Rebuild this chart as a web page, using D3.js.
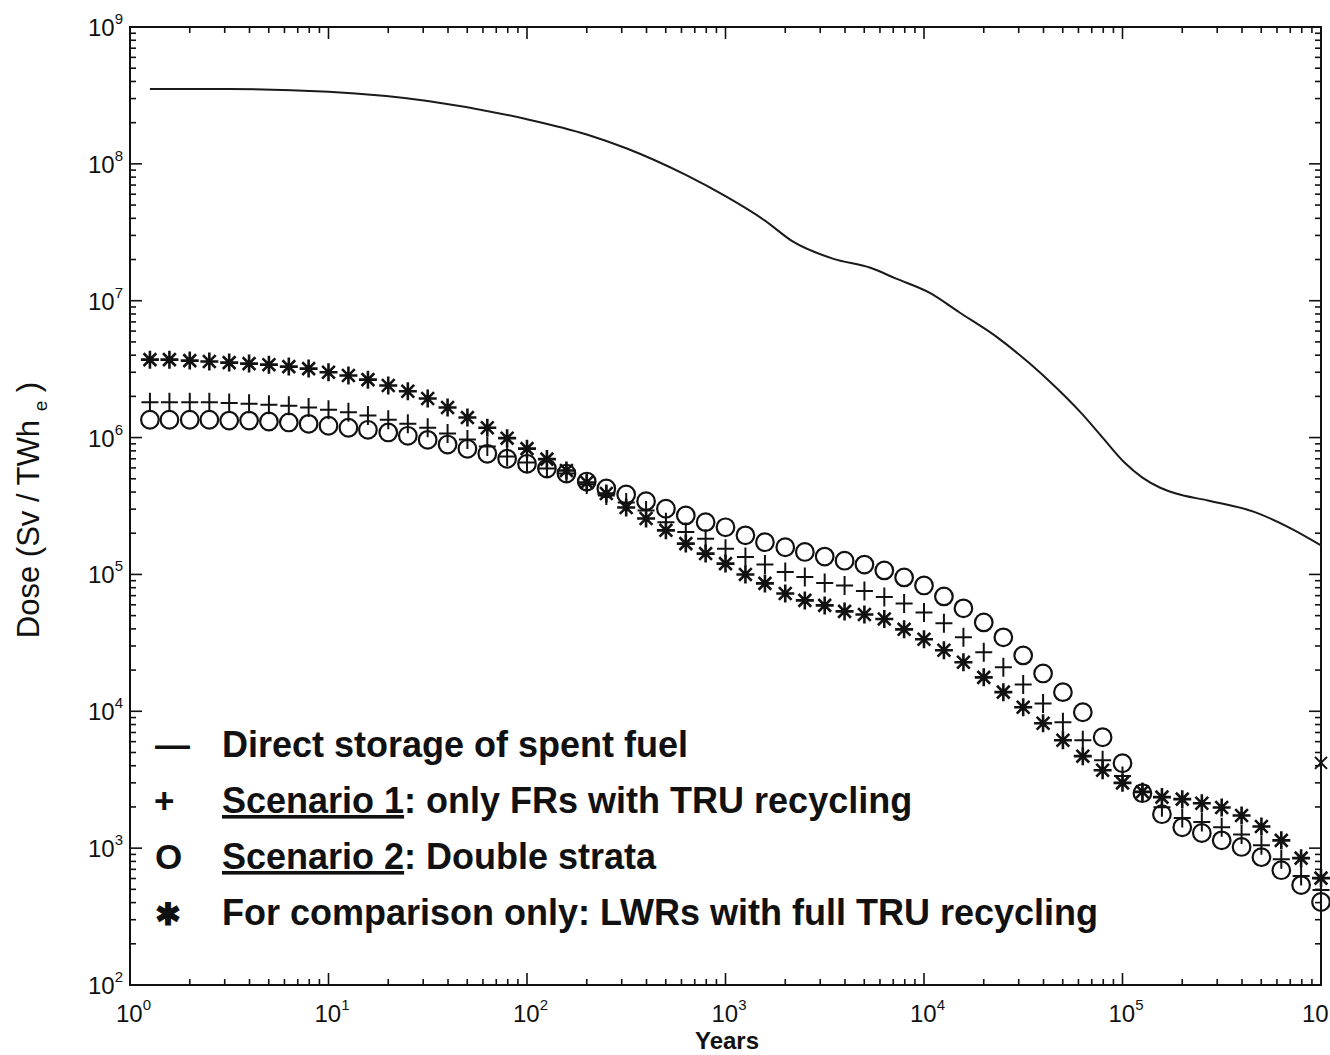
<!DOCTYPE html>
<html>
<head>
<meta charset="utf-8">
<script src="https://cdn.jsdelivr.net/npm/d3@7"></script>
<style>
  html, body { margin: 0; padding: 0; background: #fff; }
  svg { display: block; }
  text { font-family: "Liberation Sans", Arial, Helvetica, sans-serif; fill: #111; }
</style>
</head>
<body>
<svg id="chart" width="1330" height="1055"></svg>
<script>
// Radiotoxic dose of the waste per TWh(e) versus time after discharge

// Direct storage of spent fuel (continuous curve)
const lineYears = [1.26, 3.16, 10, 31.6, 100, 200, 316, 631, 1000, 1580, 2190, 3470, 5370, 7240,
  10700, 15100, 23400, 33900, 45700, 61700, 79400, 102000, 126000, 155000, 186000, 269000, 468000, 692000, 1000000];
const lineDose = [3.52e8, 3.52e8, 3.36e8, 2.88e8, 2.12e8, 1.64e8, 1.3e8, 8.3e7, 5.8e7, 3.85e7, 2.7e7, 2.03e7, 1.74e7, 1.45e7,
  1.14e7, 8.2e6, 5.4e6, 3.5e6, 2.36e6, 1.52e6, 1.0e6, 6.6e5, 5.1e5, 4.3e5, 3.9e5, 3.47e5, 2.84e5, 2.2e5, 1.63e5];

// Sampling times shared by the three marker series
const years = [
  1.26, 1.58, 2.0, 2.51, 3.16, 3.98, 5.01, 6.31, 7.94, 10,
  12.6, 15.8, 20.0, 25.1, 31.6, 39.8, 50.1, 63.1, 79.4, 100,
  126, 158, 200, 251, 316, 398, 501, 631, 794, 1000,
  1260, 1580, 2000, 2510, 3160, 3980, 5010, 6310, 7940, 10000,
  12600, 15800, 20000, 25100, 31600, 39800, 50100, 63100, 79400, 100000,
  126000, 158000, 200000, 251000, 316000, 398000, 501000, 631000, 794000, 1000000];

// Scenario 1: only FRs with TRU recycling (+)
const doseScenario1 = [
  1.81e6, 1.81e6, 1.81e6, 1.81e6, 1.79e6, 1.77e6, 1.74e6, 1.71e6, 1.66e6, 1.6e6,
  1.53e6, 1.45e6, 1.35e6, 1.26e6, 1.18e6, 1.07e6, 9.67e5, 8.59e5, 7.26e5, 6.58e5,
  5.94e5, 5.46e5, 4.54e5, 3.78e5, 3.36e5, 2.93e5, 2.41e5, 2.04e5, 1.82e5, 1.54e5,
  1.34e5, 1.18e5, 1.04e5, 9.56e4, 8.64e4, 8.31e4, 7.56e4, 6.83e4, 6.14e4, 5.28e4,
  4.39e4, 3.47e4, 2.7e4, 2.1e4, 1.57e4, 1.14e4, 8.32e3, 6.14e3, 4.39e3, 3.36e3,
  2.56e3, 1.99e3, 1.66e3, 1.55e3, 1.42e3, 1.26e3, 1.05e3, 830, 625, 494];

// Scenario 2: double strata (O)
const doseScenario2 = [
  1.35e6, 1.35e6, 1.35e6, 1.35e6, 1.33e6, 1.33e6, 1.31e6, 1.29e6, 1.26e6, 1.22e6,
  1.18e6, 1.14e6, 1.09e6, 1.03e6, 9.62e5, 8.89e5, 8.28e5, 7.61e5, 7.0e5, 6.43e5,
  5.94e5, 5.46e5, 4.77e5, 4.25e5, 3.84e5, 3.43e5, 3.02e5, 2.7e5, 2.41e5, 2.21e5,
  1.93e5, 1.72e5, 1.58e5, 1.46e5, 1.35e5, 1.26e5, 1.18e5, 1.07e5, 9.51e4, 8.31e4,
  6.91e4, 5.65e4, 4.46e4, 3.47e4, 2.56e4, 1.89e4, 1.38e4, 9.84e3, 6.46e3, 4.17e3,
  2.52e3, 1.77e3, 1.42e3, 1.29e3, 1.14e3, 1.02e3, 859, 690, 537, 404];

// For comparison: LWRs with full TRU recycling (*)
const doseLWR = [
  3.71e6, 3.71e6, 3.65e6, 3.6e6, 3.53e6, 3.47e6, 3.41e6, 3.3e6, 3.19e6, 3.0e6,
  2.84e6, 2.65e6, 2.4e6, 2.18e6, 1.93e6, 1.66e6, 1.4e6, 1.18e6, 9.9e5, 8.3e5,
  6.96e5, 5.74e5, 4.7e5, 3.9e5, 3.08e5, 2.56e5, 2.1e5, 1.68e5, 1.42e5, 1.2e5,
  1.0e5, 8.6e4, 7.26e4, 6.46e4, 5.94e4, 5.37e4, 5.1e4, 4.73e4, 3.97e4, 3.36e4,
  2.79e4, 2.28e4, 1.77e4, 1.38e4, 1.07e4, 8.17e3, 6.14e3, 4.7e3, 3.71e3, 3.0e3,
  2.58e3, 2.36e3, 2.28e3, 2.13e3, 1.98e3, 1.73e3, 1.44e3, 1.14e3, 845, 604];

// Lone cross sitting on the right frame
const strayYears = [1000000];
const strayDose = [4.2e3];

// Axis decades
const xDecades = [0, 1, 2, 3, 4, 5, 6];
const yDecades = [2, 3, 4, 5, 6, 7, 8, 9];

const legendItems = [
  { sym: "\u2014", u: "", post: "Direct storage of spent fuel" },
  { sym: "+", u: "Scenario 1", post: ": only FRs with TRU recycling" },
  { sym: "O", u: "Scenario 2", post: ": Double strata" },
  { sym: "\u2731", u: "", post: "For comparison only: LWRs with full TRU recycling" }
];

const W = 1330;
const svg = d3.select("#chart");
const plotLeft = 130, plotRight = 1321, plotTop = 27, plotBottom = 985;

const x = d3.scaleLog().domain([1, 1e6]).range([plotLeft, plotRight]);
const y = d3.scaleLog().domain([1e2, 1e9]).range([plotBottom, plotTop]);

const ink = "#111";

// ---- ticks (inward, on all four sides) ----
const xTicks = [];
xDecades.forEach(d => {
  for (let m = 1; m <= 9; m++) {
    const v = m * Math.pow(10, d);
    if (v > 1e6) break;
    xTicks.push({ v, major: m === 1 });
  }
});
const yTicks = [];
yDecades.forEach(d => {
  for (let m = 1; m <= 9; m++) {
    const v = m * Math.pow(10, d);
    if (v > 1e9) break;
    yTicks.push({ v, major: m === 1 });
  }
});

const tickG = svg.append("g").attr("stroke", ink).attr("stroke-width", 1.6);
const majLen = 12, minLen = 6;
tickG.append("g").selectAll("line").data(xTicks).join("line")
  .attr("x1", d => x(d.v)).attr("x2", d => x(d.v))
  .attr("y1", plotBottom).attr("y2", d => plotBottom - (d.major ? majLen : minLen));
tickG.append("g").selectAll("line").data(xTicks).join("line")
  .attr("x1", d => x(d.v)).attr("x2", d => x(d.v))
  .attr("y1", plotTop).attr("y2", d => plotTop + (d.major ? majLen : minLen));
tickG.append("g").selectAll("line").data(yTicks).join("line")
  .attr("y1", d => y(d.v)).attr("y2", d => y(d.v))
  .attr("x1", plotLeft).attr("x2", d => plotLeft + (d.major ? majLen : minLen));
tickG.append("g").selectAll("line").data(yTicks).join("line")
  .attr("y1", d => y(d.v)).attr("y2", d => y(d.v))
  .attr("x1", plotRight).attr("x2", d => plotRight - (d.major ? majLen : minLen));

// frame
svg.append("rect")
  .attr("x", plotLeft).attr("y", plotTop)
  .attr("width", plotRight - plotLeft).attr("height", plotBottom - plotTop)
  .attr("fill", "none").attr("stroke", ink).attr("stroke-width", 2);

// ---- tick labels: 10 with superscript exponent ----
const yLab = svg.append("g");
yDecades.forEach(d => {
  const t = yLab.append("text")
    .attr("x", 123).attr("y", y(Math.pow(10, d)) + 9)
    .attr("text-anchor", "end").attr("font-size", 24);
  t.append("tspan").text("10");
  t.append("tspan").attr("dy", -12).attr("font-size", 15).text(d);
});
const xLab = svg.append("g");
xDecades.forEach(d => {
  // the base "10" is kept inside the page; the last exponent runs off the edge
  const x0 = Math.min(x(Math.pow(10, d)) - 14, W - 28);
  const t = xLab.append("text")
    .attr("x", x0).attr("y", 1022)
    .attr("font-size", 24);
  t.append("tspan").text("10");
  if (x0 + 30 < W) t.append("tspan").attr("dy", -12).attr("font-size", 15).text(d);
});

// axis titles
svg.append("text")
  .attr("x", 727).attr("y", 1049)
  .attr("text-anchor", "middle").attr("font-size", 24).attr("font-weight", "bold")
  .text("Years");

const yt = svg.append("text")
  .attr("transform", "translate(39,510) rotate(-90)")
  .attr("text-anchor", "middle").attr("font-size", 31);
yt.append("tspan").text("Dose (Sv / TWh ");
yt.append("tspan").attr("dy", 8).attr("font-size", 19).text("e");
yt.append("tspan").attr("dy", -8).text(" )");

// ---- direct storage curve ----
const lineGen = d3.line()
  .x((d, i) => x(lineYears[i]))
  .y(d => y(d))
  .curve(d3.curveMonotoneX);
svg.append("path")
  .datum(lineDose)
  .attr("d", lineGen)
  .attr("fill", "none").attr("stroke", "#1a1a1a").attr("stroke-width", 2);

// ---- marker series ----
const markG = svg.append("g").attr("fill", "none").attr("stroke", ink);

// circles
markG.append("g").attr("stroke-width", 2.2)
  .selectAll("circle").data(doseScenario2).join("circle")
  .attr("cx", (d, i) => x(years[i])).attr("cy", d => y(d)).attr("r", 8.8);

// plus signs
const plusPath = "M-8.5,0H8.5M0,-9.5V9.5";
markG.append("g").attr("stroke-width", 2)
  .selectAll("path").data(doseScenario1).join("path")
  .attr("transform", (d, i) => `translate(${x(years[i])},${y(d)})`)
  .attr("d", plusPath);

// asterisks
const a = 9, b = a * Math.SQRT1_2;
const starPath = `M0,${-a}V${a}M${-a},0H${a}M${-b},${-b}L${b},${b}M${-b},${b}L${b},${-b}`;
markG.append("g").attr("stroke-width", 2.6)
  .selectAll("path").data(doseLWR).join("path")
  .attr("transform", (d, i) => `translate(${x(years[i])},${y(d)})`)
  .attr("d", starPath);

// lone cross
markG.append("g").attr("stroke-width", 2)
  .selectAll("path").data(strayDose).join("path")
  .attr("transform", (d, i) => `translate(${x(strayYears[i])},${y(d)})`)
  .attr("d", "M-6,-6L6,6M-6,6L6,-6");

// ---- legend ----
const legY = [757, 813, 869, 925];
const leg = svg.append("g").attr("font-weight", "bold").attr("font-size", 36);
legendItems.forEach((it, i) => {
  leg.append("text")
    .attr("x", it.sym === "+" ? 154 : 155).attr("y", legY[i])
    .attr("font-family", it.sym === "\u2731" ? "DejaVu Sans, sans-serif" : null)
    .attr("font-size", it.sym === "\u2731" ? 31 : 35)
    .text(it.sym);
  const t = leg.append("text").attr("x", 222).attr("y", legY[i]);
  if (it.u) t.append("tspan").attr("text-decoration", "underline").text(it.u);
  t.append("tspan").text(it.post);
});
</script>
</body>
</html>
